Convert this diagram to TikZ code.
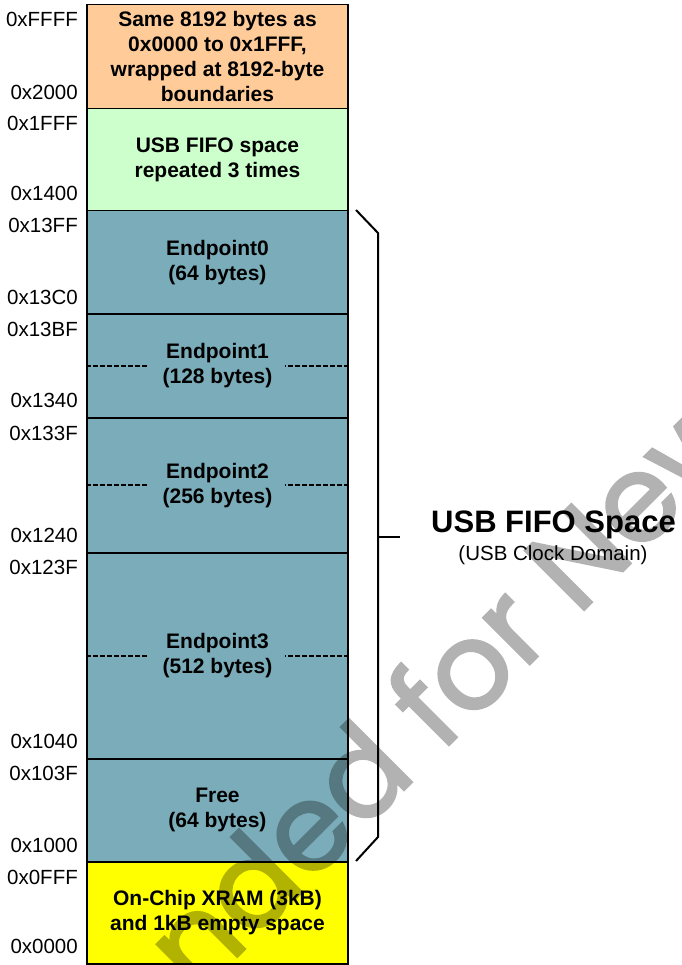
\documentclass[tikz,border=0pt]{standalone}
\usepackage{fontspec}
\setmainfont{Liberation Sans}
\newfontfamily\wmfont{Poppins}[FakeBold=2]
\definecolor{peach}{HTML}{FFCC99}
\definecolor{mint}{HTML}{CCFFCC}
\definecolor{tealblk}{HTML}{7AACB9}
\definecolor{xram}{HTML}{FFFF00}
\begin{document}
\begin{tikzpicture}[x=1pt,y=-1pt,
  blk/.style={draw=black, line width=1.5pt, minimum width=261pt, inner sep=0pt,
    align=center, anchor=north, font=\fontsize{21}{25}\selectfont\bfseries},
  addr/.style={anchor=east, inner sep=0pt, font=\fontsize{20.5}{24}\selectfont},
  dsh/.style={line width=2pt, dash pattern=on 4.5pt off 2.5pt},
  bracestyle/.style={line width=2pt},
  wm/.style={anchor=base west, rotate=45, inner sep=0pt,
    font=\wmfont\fontsize{120}{120}\selectfont}]
\useasboundingbox (0,0) rectangle (681,965);

% memory blocks
\node[blk, fill=peach, minimum height=104pt] (wrap) at (217.5,4)
  {Same 8192 bytes as\\0x0000 to 0x1FFF,\\wrapped at 8192-byte\\boundaries};
\node[blk, fill=mint, minimum height=102pt] (rep) at (217.5,108)
  {USB FIFO space\\repeated 3 times};
\node[blk, fill=tealblk, minimum height=103pt] (ep0) at (217.5,210)
  {Endpoint0\\(64 bytes)};
\node[blk, fill=tealblk, minimum height=104pt] (ep1) at (217.5,313)
  {Endpoint1\\(128 bytes)};
\node[blk, fill=tealblk, minimum height=135pt] (ep2) at (217.5,417)
  {Endpoint2\\(256 bytes)};
\node[blk, fill=tealblk, minimum height=206pt] (ep3) at (217.5,552)
  {Endpoint3\\(512 bytes)};
\node[blk, fill=tealblk, minimum height=103pt] (free) at (217.5,758)
  {Free\\(64 bytes)};
\node[blk, fill=xram, minimum height=102pt] (ram) at (217.5,861)
  {On-Chip XRAM (3kB)\\and 1kB empty space};

% dashed separators
\foreach \b in {ep1,ep2,ep3}{
  \draw[dsh] (\b.west) -- ++(61,0);
  \draw[dsh] (\b.east) -- ++(-64,0);
}

% address labels
\node[addr] (a1) at (78,19.5) {0xFFFF};
\node[addr] (a2) at (78,92) {0x2000};
\node[addr] (a3) at (78,123) {0x1FFF};
\node[addr] (a4) at (78,193) {0x1400};
\node[addr] (a5) at (78,225) {0x13FF};
\node[addr] (a6) at (78,297) {0x13C0};
\node[addr] (a7) at (78,329) {0x13BF};
\node[addr] (a8) at (78,400) {0x1340};
\node[addr] (a9) at (78,433) {0x133F};
\node[addr] (a10) at (78,535) {0x1240};
\node[addr] (a11) at (78,567) {0x123F};
\node[addr] (a12) at (78,741) {0x1040};
\node[addr] (a13) at (78,773) {0x103F};
\node[addr] (a14) at (78,845) {0x1000};
\node[addr] (a15) at (78,877) {0x0FFF};
\node[addr] (a16) at (78,946) {0x0000};

% brace
\coordinate (bt) at (356,210);
\coordinate (bb) at (356,861);
\draw[bracestyle] (bt) -- (378,233) -- (378,837) -- (bb);
\coordinate (tick) at (378,537);

% label
\node[anchor=base, inner sep=0pt, font=\fontsize{31}{31}\selectfont\bfseries] (usb) at (553.5,532) {USB FIFO Space};
\node[anchor=base, inner sep=0pt, font=\fontsize{20.5}{20}\selectfont] (clk) at (553,560) {(USB Clock Domain)};
\draw[bracestyle] (tick) -- (400,537);

% watermark
\begin{scope}[transparency group, opacity=0.3]
\node[wm] (wmark) at (441,753) {\llap{Not Recommended }for New Designs};
\end{scope}
\end{tikzpicture}
\end{document}
